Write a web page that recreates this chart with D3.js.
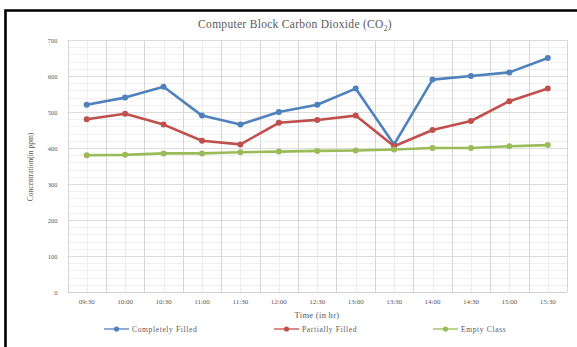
<!DOCTYPE html>
<html>
<head>
<meta charset="utf-8">
<script src="https://cdn.jsdelivr.net/npm/d3@7"></script>
<style>
  html, body { margin: 0; padding: 0; background: #fff; }
  svg { display: block; }
  text { font-family: "Liberation Serif", "DejaVu Serif", serif; fill: #595959; }
</style>
</head>
<body>
<svg id="chart" width="577" height="347"></svg>
<script>
// Time of reading (half-hour slots)
const times = ["09:30", "10:00", "10:30", "11:00", "11:30", "12:00", "12:30",
               "13:00", "13:30", "14:00", "14:30", "15:00", "15:30"];

// CO2 concentration (ppm) per occupancy state
const completelyFilled = [520, 540, 570, 490, 465, 500, 520, 565, 410, 590, 600, 610, 650];
const partiallyFilled  = [480, 495, 465, 420, 410, 470, 478, 490, 405, 450, 475, 530, 565];
const emptyClass       = [380, 381, 385, 385, 388, 390, 392, 393, 396, 400, 400, 405, 408];

const yTicks = [0, 100, 200, 300, 400, 500, 600, 700];

const seriesNames  = ["Completely Filled", "Partially Filled", "Empty Class"];
const seriesColors = ["#4F81BD", "#C0504D", "#9BBB59"];

const series = [completelyFilled, partiallyFilled, emptyClass].map((vals, i) => ({
  name: seriesNames[i],
  color: seriesColors[i],
  values: vals
}));

const svg = d3.select("#chart");

// frame
svg.append("path")
  .attr("d", "M5.5,347 V10.5 H577")
  .attr("fill", "none")
  .attr("stroke", "#000")
  .attr("stroke-width", 2.6);

const plot = { left: 67.5, right: 567, top: 40, bottom: 292 };

const x = d3.scaleBand().domain(times).range([plot.left, plot.right]).padding(0);
const y = d3.scaleLinear().domain([0, 700]).range([plot.bottom, plot.top]);
const cx = t => x(t) + x.bandwidth() / 2;

const grid = svg.append("g");

// minor horizontal grid every 20 ppm
grid.selectAll("line.hmin")
  .data(d3.range(20, 700, 20).filter(v => v % 100 !== 0))
  .join("line")
  .attr("x1", plot.left).attr("x2", plot.right)
  .attr("y1", d => Math.round(y(d)) + 0.5).attr("y2", d => Math.round(y(d)) + 0.5)
  .attr("stroke", "#f0f0f0").attr("stroke-width", 1);

// minor vertical grid at slot centres
grid.selectAll("line.vmin")
  .data(times)
  .join("line")
  .attr("x1", d => Math.round(cx(d)) + 0.5).attr("x2", d => Math.round(cx(d)) + 0.5)
  .attr("y1", plot.top).attr("y2", plot.bottom)
  .attr("stroke", "#ededed").attr("stroke-width", 1);

// major horizontal grid
grid.selectAll("line.hmaj")
  .data(yTicks.filter(v => v > 0))
  .join("line")
  .attr("x1", plot.left).attr("x2", plot.right)
  .attr("y1", d => Math.round(y(d)) + 0.5).attr("y2", d => Math.round(y(d)) + 0.5)
  .attr("stroke", "#dcdcdc").attr("stroke-width", 1);

// major vertical grid at slot boundaries
grid.selectAll("line.vmaj")
  .data(times.map(t => x(t)).concat([plot.right]))
  .join("line")
  .attr("x1", d => Math.round(d) + 0.5).attr("x2", d => Math.round(d) + 0.5)
  .attr("y1", plot.top).attr("y2", plot.bottom)
  .attr("stroke", "#d6d6d6").attr("stroke-width", 1);

// x axis baseline
svg.append("line")
  .attr("x1", plot.left).attr("x2", plot.right)
  .attr("y1", plot.bottom + 0.5).attr("y2", plot.bottom + 0.5)
  .attr("stroke", "#cfcfcf").attr("stroke-width", 1);

// y axis
const yAxis = svg.append("g")
  .attr("transform", `translate(${plot.left},0)`)
  .call(d3.axisLeft(y).tickValues(yTicks).tickSize(0).tickPadding(10).tickFormat(d3.format("d")));
yAxis.select(".domain").remove();
yAxis.selectAll("text")
  .style("font-family", "'Liberation Serif', serif")
  .style("font-size", "6.5px")
  .attr("fill", "#6b6b6b");

// x axis labels
const xAxis = svg.append("g")
  .attr("transform", `translate(0,${plot.bottom})`)
  .call(d3.axisBottom(x).tickSize(0).tickPadding(7));
xAxis.select(".domain").remove();
xAxis.selectAll("text")
  .style("font-family", "'Liberation Serif', serif")
  .style("font-size", "7px")
  .attr("fill", "#6b6b6b");

// lines and markers
const line = d3.line()
  .x((d, i) => cx(times[i]))
  .y(d => y(d));

const sg = svg.selectAll("g.series")
  .data(series)
  .join("g")
  .attr("class", "series");

sg.append("path")
  .attr("d", d => line(d.values))
  .attr("fill", "none")
  .attr("stroke", d => d.color)
  .attr("stroke-width", 2.6)
  .attr("stroke-linejoin", "round");

sg.selectAll("circle")
  .data(d => d.values.map((v, i) => ({ v, i, color: d.color })))
  .join("circle")
  .attr("cx", d => cx(times[d.i]))
  .attr("cy", d => y(d.v))
  .attr("r", 3)
  .attr("fill", d => d.color);

// title
const title = svg.append("text")
  .attr("x", 295).attr("y", 28)
  .attr("text-anchor", "middle")
  .style("font-size", "11.5px")
  .style("letter-spacing", "0.3px")
  .attr("fill", "#595959");
title.append("tspan").text("Computer Block Carbon Dioxide (CO");
title.append("tspan").text("2").attr("dy", 2.5).style("font-size", "7.5px");
title.append("tspan").text(")").attr("dy", -2.5);

// axis titles
svg.append("text")
  .attr("x", 317).attr("y", 318)
  .attr("text-anchor", "middle")
  .style("font-size", "8.5px")
  .style("letter-spacing", "0.3px")
  .text("Time (in hr)");

svg.append("text")
  .attr("transform", "translate(33,167) rotate(-90)")
  .attr("text-anchor", "middle")
  .style("font-size", "7.5px")
  .text("Concentration(in ppm)");

// legend
const legendX = [104, 274, 433];
const lg = svg.selectAll("g.legend")
  .data(series)
  .join("g")
  .attr("class", "legend")
  .attr("transform", (d, i) => `translate(${legendX[i]},329)`);

lg.append("line")
  .attr("x1", 0).attr("x2", 25)
  .attr("stroke", d => d.color).attr("stroke-width", 1.3);
lg.append("circle")
  .attr("cx", 12.5).attr("r", 2.6)
  .attr("fill", d => d.color);
lg.append("text")
  .attr("x", 28).attr("y", 2.5)
  .style("font-size", "7.5px")
  .style("letter-spacing", "0.65px")
  .text(d => d.name);
</script>
</body>
</html>
